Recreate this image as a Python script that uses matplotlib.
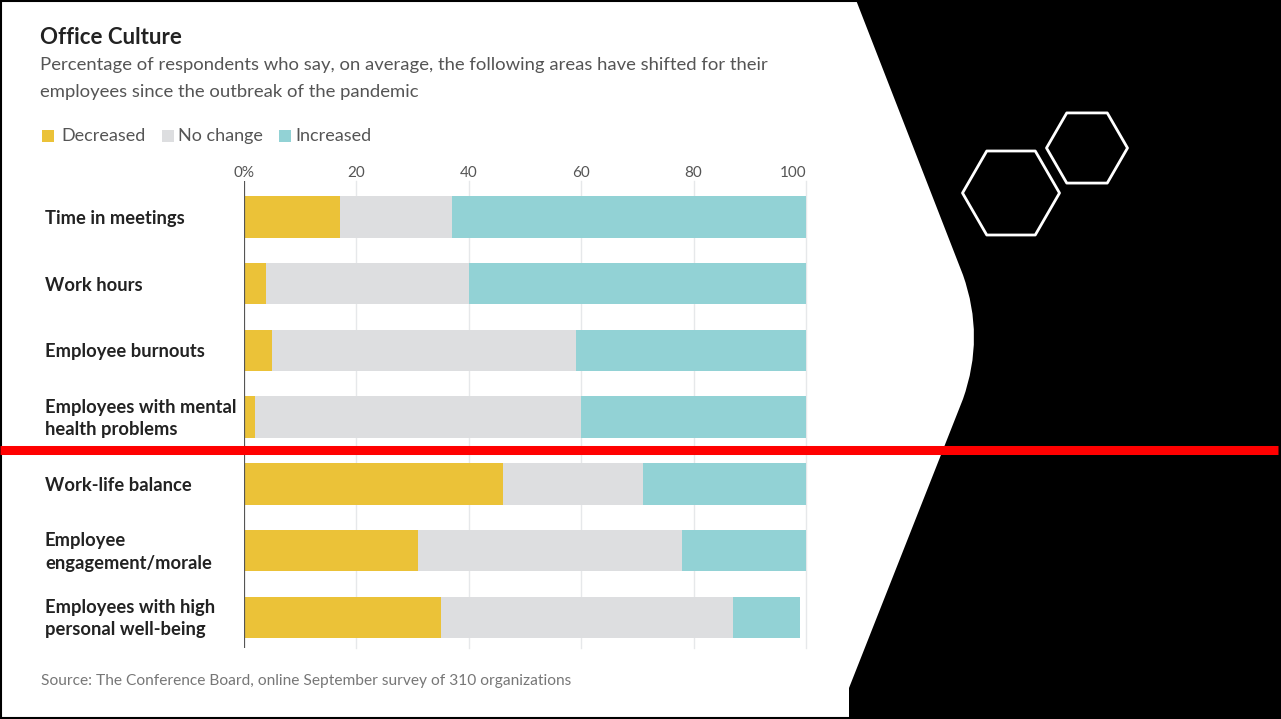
import numpy as np
import matplotlib
matplotlib.use("Agg")
import matplotlib.pyplot as plt
import matplotlib.transforms as mtransforms
from matplotlib.patches import PathPatch, Rectangle, RegularPolygon
from matplotlib.path import Path

# ---- data ----
categories = ["Time in meetings", "Work hours", "Employee burnouts",
              "Employees with mental\nhealth problems", "Work-life balance",
              "Employee\nengagement/morale", "Employees with high\npersonal well-being"]
decreased = [17, 4, 5, 2, 46, 31, 35]
no_change = [20, 36, 54, 58, 25, 47, 52]
increased = [63, 60, 41, 40, 29, 22, 12]
tick_values = [0, 20, 40, 60, 80, 100]
tick_labels = ["0%", "20", "40", "60", "80", "100"]
series_names = ["Decreased", "No change", "Increased"]
series_colors = ["#EBC238", "#DDDEE0", "#92D2D5"]

plt.rcParams['font.family'] = ['Lato', 'DejaVu Sans']

W, H = 1281, 719
fig = plt.figure(figsize=(W / 100, H / 100), dpi=100)
fig.patch.set_facecolor("white")

# ---- background layer in pixel coordinates ----
bg = fig.add_axes([0, 0, 1, 1], zorder=0)
bg.set_xlim(0, W)
bg.set_ylim(H, 0)
bg.axis("off")

verts = [(856, 0), (963, 275), (985, 337), (963, 399), (849, 688),
         (849, H), (W, H), (W, 0), (856, 0)]
codes = [Path.MOVETO, Path.LINETO, Path.CURVE3, Path.CURVE3, Path.LINETO,
         Path.LINETO, Path.LINETO, Path.LINETO, Path.CLOSEPOLY]
bg.add_patch(PathPatch(Path(verts, codes), facecolor="black", edgecolor="none"))

for cx, cy, r in [(1011, 193, 48.5), (1087, 148, 40.5)]:
    bg.add_patch(RegularPolygon((cx, cy), numVertices=6, radius=r,
                                orientation=np.pi / 6, facecolor="none",
                                edgecolor="white", lw=2, joinstyle="round"))

# ---- chart ----
ax = fig.add_axes([244 / W, 1 - 648 / H, 562 / W, 467 / H], zorder=1)
ax.patch.set_alpha(0)
y = np.arange(len(categories))
left = np.zeros(len(categories))
for vals, name, col in zip([decreased, no_change, increased], series_names, series_colors):
    ax.barh(y, vals, left=left, height=0.62, color=col, label=name, zorder=2, lw=0)
    left += np.array(vals)

ax.set_xlim(0, 100)
ax.set_ylim(6.46, -0.54)
for v in tick_values[1:]:
    ax.axvline(v, color="#E6E8EA", lw=1, zorder=0, clip_on=False)
ax.axvline(0, color="#555555", lw=1.6, zorder=3)

ax.xaxis.tick_top()
ax.set_xticks(tick_values)
ax.set_xticklabels(tick_labels)
ax.tick_params(axis="x", length=0, pad=1, labelsize=11, labelcolor="#555555")
ax.get_xticklabels()[-1].set_horizontalalignment("right")
ax.set_yticks([])
for s in ax.spines.values():
    s.set_visible(False)

trans = mtransforms.blended_transform_factory(fig.transFigure, ax.transData)
for i, cat in enumerate(categories):
    ax.text(45 / W, i + 0.02, cat, transform=trans, ha="left", va="center",
            fontsize=13.2, fontweight="bold", color="#222222", linespacing=1.4)

# ---- header, legend, source and overlays ----
fg = fig.add_axes([0, 0, 1, 1], zorder=3)
fg.set_xlim(0, W)
fg.set_ylim(H, 0)
fg.axis("off")

fg.text(40, 37, "Office Culture", fontsize=16, fontweight="bold",
        color="#222222", va="center", ha="left")
fg.text(40, 65, "Percentage of respondents who say, on average, the following areas have shifted for their",
        fontsize=13.3, color="#555555", va="center", ha="left")
fg.text(40, 92, "employees since the outbreak of the pandemic",
        fontsize=13.3, color="#555555", va="center", ha="left")

for (sx, tx), name, col in zip([(42, 61), (162, 178), (279, 295)], series_names, series_colors):
    fg.add_patch(Rectangle((sx, 130), 12, 12, facecolor=col, edgecolor="none"))
    fg.text(tx, 136, name, fontsize=13, color="#555555", va="center", ha="left")

fg.text(41, 681, "Source: The Conference Board, online September survey of 310 organizations",
        fontsize=11.2, color="#777777", va="center", ha="left")

fg.plot([0, 1278], [450, 450], color="#FF0000", lw=6.5, solid_capstyle="butt")
fg.add_patch(Rectangle((1, 1), W - 2, H - 2, fill=False, edgecolor="black", lw=1.5))

fig.savefig("out.png", dpi=100)
